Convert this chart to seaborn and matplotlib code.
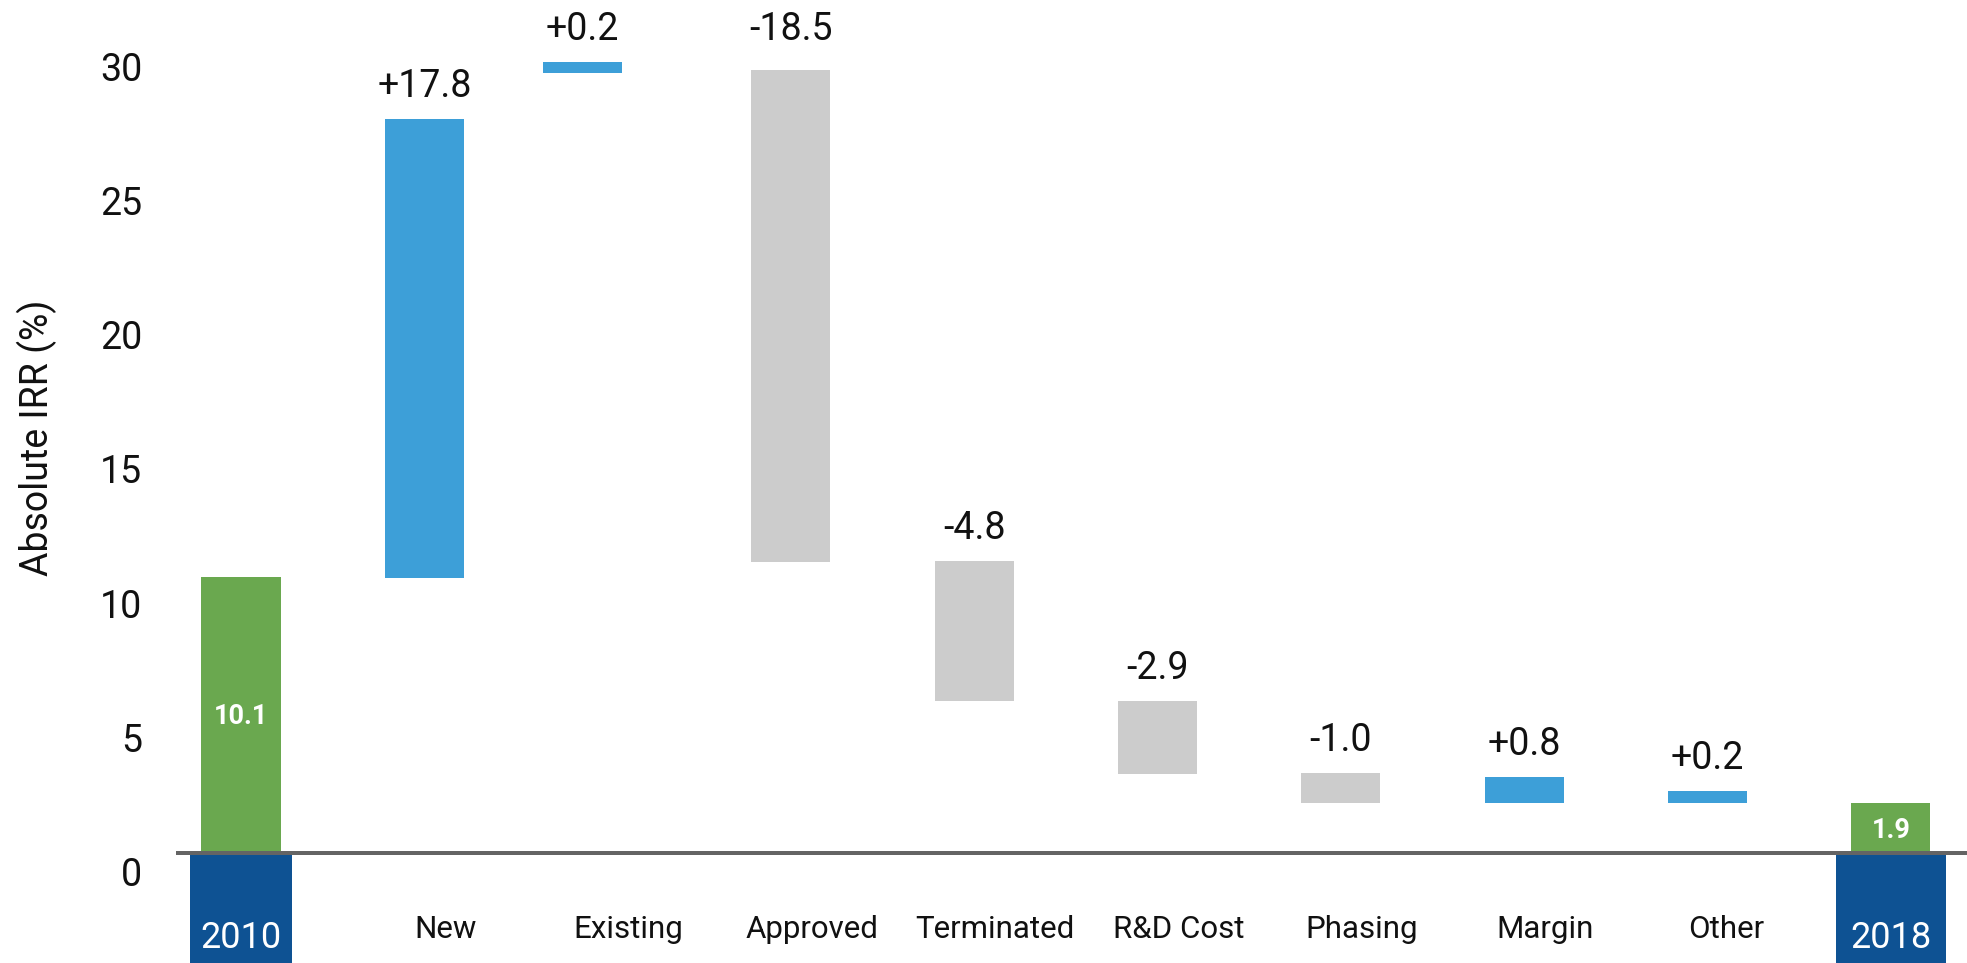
import numpy as np
import pandas as pd
import matplotlib
matplotlib.use("Agg")
import matplotlib.pyplot as plt
import matplotlib.transforms as mtransforms
import seaborn as sns

# ---------------- data ----------------
categories = ["2010", "New", "Existing", "Approved", "Terminated",
              "R&D Cost", "Phasing", "Margin", "Other", "2018"]
bar_bottom = [0.0, 10.26, 29.07, 10.85, 5.67, 2.95, 1.87, 1.87, 1.87, 0.0]
bar_top = [10.29, 27.35, 29.47, 29.17, 10.88, 5.66, 2.98, 2.83, 2.31, 1.86]
value_labels = ["10.1", "+17.8", "+0.2", "-18.5", "-4.8",
                "-2.9", "-1.0", "+0.8", "+0.2", "1.9"]
kinds = ["total", "up", "up", "down", "down", "down", "down", "up", "up", "total"]
y_ticks = [0, 5, 10, 15, 20, 25, 30]
y_label = "Absolute IRR (%)"

# ---------------- style ----------------
sns.set_theme(style="white")
plt.rcParams["font.family"] = ["Roboto", "DejaVu Sans"]

kind_colors = {"total": "#6AA84F", "up": "#3D9FD8", "down": "#CCCCCC"}
box_color = "#0E5293"
line_color = "#646464"

W, H, DPI = 1967, 963, 100
PX = 72.0 / DPI  # points per pixel

fig = plt.figure(figsize=(W / DPI, H / DPI), dpi=DPI)
left_px = 160
ax = fig.add_axes([left_px / W, 0, 1 - left_px / W, 1])

x0_px, step_px = 241.0, 183.33
y0_px, unit_px = 853.0, 26.84
xmin = (left_px - x0_px) / step_px
xmax = (W - x0_px) / step_px
ymin = -(H - y0_px) / unit_px
ymax = y0_px / unit_px

n = len(categories)
bottoms = np.array(bar_bottom)
tops = np.array(bar_top)
heights = tops - bottoms
nudge = np.array([-0.136 if c == "Existing" else 0.0 for c in categories])
label_nudge = [0 if k == "total" else (18.5 if c == "Other" else 21)
               for c, k in zip(categories, kinds)]
xpos = np.arange(n) + nudge

df = pd.DataFrame({"cat": categories, "height": heights, "bottom": bottoms})
sns.barplot(data=df, x="cat", y="height", order=categories, bottom=bottoms,
            width=0.431, color=kind_colors["up"], errorbar=None,
            linewidth=0, ax=ax, zorder=2)
bar_patches = list(ax.patches)
for patch, k, dx in zip(bar_patches, kinds, nudge):
    patch.set_facecolor(kind_colors[k])
    patch.set_edgecolor("none")
    patch.set_x(patch.get_x() + dx)

# dark blue boxes under the totals
tot_idx = [i for i, k in enumerate(kinds) if k == "total"]
box_w = [0.551, 0.605]
ax.bar([xpos[i] for i in tot_idx], [ymin - 1] * len(tot_idx), width=box_w,
       bottom=0, color=box_color, linewidth=0, zorder=1)

# baseline
ax.hlines(0, (176 - x0_px) / step_px, xmax, colors=line_color,
          linewidth=4 * PX, zorder=4)

ax.set_axisbelow(False)
ax.set_xlim(xmin, xmax)
ax.set_ylim(ymin, ymax)
for s in ax.spines.values():
    s.set_visible(False)
ax.grid(False)
ax.set_xlabel("")
ax.set_ylabel("")

# y ticks
ax.set_yticks(y_ticks)
ax.set_yticklabels([str(t) for t in y_ticks])
ax.tick_params(axis="y", length=0, pad=18 * PX, labelsize=27, labelcolor="#111111")
for lbl in ax.get_yticklabels():
    lbl.set_verticalalignment("baseline")
    lbl.set_transform(lbl.get_transform() +
                      mtransforms.ScaledTranslation(0, -33 / DPI, fig.dpi_scale_trans))

# x ticks
ax.set_xticks(np.arange(n))
ax.set_xticklabels(categories)
ax.tick_params(axis="x", length=0, pad=-25 * PX)
for lbl, k, dxp in zip(ax.get_xticklabels(), kinds, label_nudge):
    lbl.set_verticalalignment("baseline")
    if k == "total":
        lbl.set_color("white")
        lbl.set_fontsize(26)
        off = mtransforms.ScaledTranslation(0, -10 / DPI, fig.dpi_scale_trans)
    else:
        lbl.set_color("#111111")
        lbl.set_fontsize(22.5)
        off = mtransforms.ScaledTranslation(dxp / DPI, 0, fig.dpi_scale_trans)
    lbl.set_transform(lbl.get_transform() + off)

# value labels
label_base = np.maximum(tops, np.where(tops > 29, tops.max(), -np.inf))
for i, (txt, k) in enumerate(zip(value_labels, kinds)):
    if k == "total":
        ax.annotate(txt, xy=(xpos[i], (bottoms[i] + tops[i]) / 2),
                    xytext=(0, -9.5 * PX), textcoords="offset points",
                    ha="center", va="baseline", color="white",
                    fontsize=19.5, fontweight="bold", zorder=5)
    else:
        ax.annotate(txt, xy=(xpos[i], label_base[i]),
                    xytext=(0, 22 * PX), textcoords="offset points",
                    ha="center", va="baseline", color="#111111",
                    fontsize=27, zorder=5)

# y axis title
fig.text(48 / W, 1 - 438 / H, y_label, rotation=90, rotation_mode="anchor",
         ha="center", va="baseline", fontsize=27, color="#111111")

fig.savefig("out.png", dpi=DPI, facecolor="white")
